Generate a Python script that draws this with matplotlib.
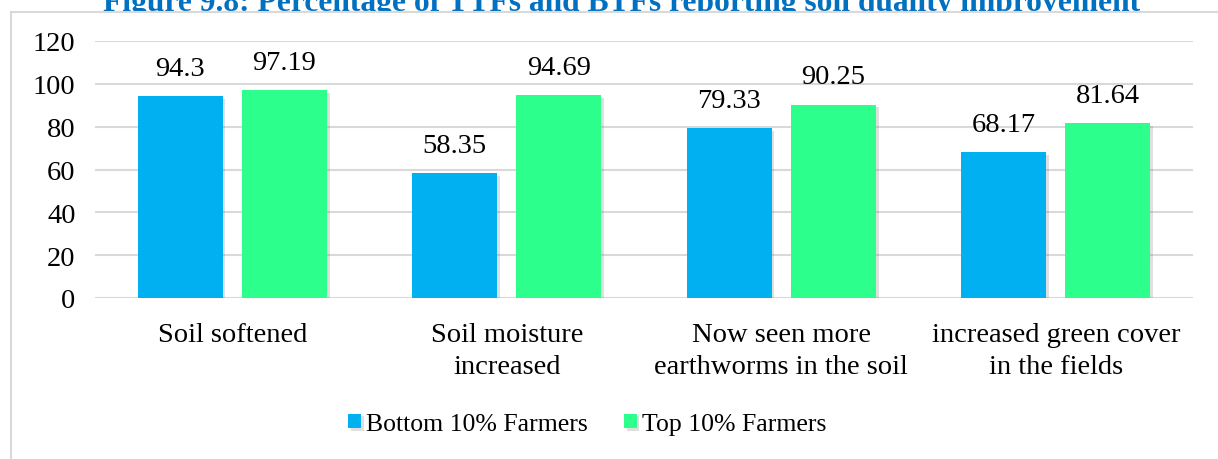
import matplotlib.pyplot as plt
import matplotlib.patheffects as pe
from matplotlib.patches import Rectangle
import numpy as np

categories = ["Soil softened", "Soil moisture\nincreased",
              "Now seen more\nearthworms in the soil", "increased green cover\nin the fields"]
bottom_10 = [94.3, 58.35, 79.33, 68.17]
top_10 = [97.19, 94.69, 90.25, 81.64]
bottom_labels = ["94.3", "58.35", "79.33", "68.17"]
top_labels = ["97.19", "94.69", "90.25", "81.64"]
yticks = [0, 20, 40, 60, 80, 100, 120]

plt.rcParams['font.family'] = ['Liberation Serif', 'DejaVu Serif']

fig = plt.figure(figsize=(12.18, 4.6), dpi=100)

# title sits behind the chart frame (cut off like in the document)
fig.text(0.51, 0.976, "Figure 9.8: Percentage of TTFs and BTFs reporting soil quality improvement",
         ha="center", va="baseline", fontsize=22.7, fontweight="bold", color="#0070C0", zorder=-2)
frame = Rectangle((11 / 1218, -0.1), 1.2, 1.1 - 13 / 460, transform=fig.transFigure,
                  facecolor="white", edgecolor="#d9d9d9", linewidth=1.5, zorder=-1)
fig.patches.append(frame)

ax = fig.add_axes([95 / 1218, 1 - 299 / 460, 1098 / 1218, 257 / 460])
ax.set_facecolor("none")

x = np.arange(len(categories))
w = 0.31
off = 0.19
shadow = [pe.SimplePatchShadow(offset=(2, -2), alpha=0.25, shadow_rgbFace="gray"), pe.Normal()]
b1 = ax.bar(x - off, bottom_10, w, color="#00B0F0", label="Bottom 10% Farmers", zorder=3)
b2 = ax.bar(x + off, top_10, w, color="#2CFF8C", label="Top 10% Farmers", zorder=3)
for b in list(b1) + list(b2):
    b.set_path_effects(shadow)

for xi, v, t in zip(x - off, bottom_10, bottom_labels):
    ax.annotate(t, (xi, v), xytext=(0, 11), textcoords="offset points",
                ha="center", va="bottom", fontsize=20.5)
for xi, v, t in zip(x + off, top_10, top_labels):
    ax.annotate(t, (xi, v), xytext=(0, 11), textcoords="offset points",
                ha="center", va="bottom", fontsize=20.5)

ax.set_xlim(-0.5, len(categories) - 0.5)
ax.set_ylim(0, 120)
ax.set_yticks(yticks)
ax.set_xticks(x)
ax.set_xticklabels(categories, fontsize=20.5, linespacing=1.38)
ax.tick_params(axis="y", labelsize=20.5, length=0, pad=14)
ax.tick_params(axis="x", length=0, pad=17)
ax.grid(axis="y", color="#d9d9d9", linewidth=1.5, zorder=0)
for s in ax.spines.values():
    s.set_visible(False)

fig.legend(handles=[b1, b2], loc="center", bbox_to_anchor=(0.482, 0.076), ncol=2,
           frameon=False, fontsize=18.5, handlelength=0.5, handleheight=0.5,
           handletextpad=0.2, columnspacing=1.4)

fig.savefig("out.png", dpi=100)
